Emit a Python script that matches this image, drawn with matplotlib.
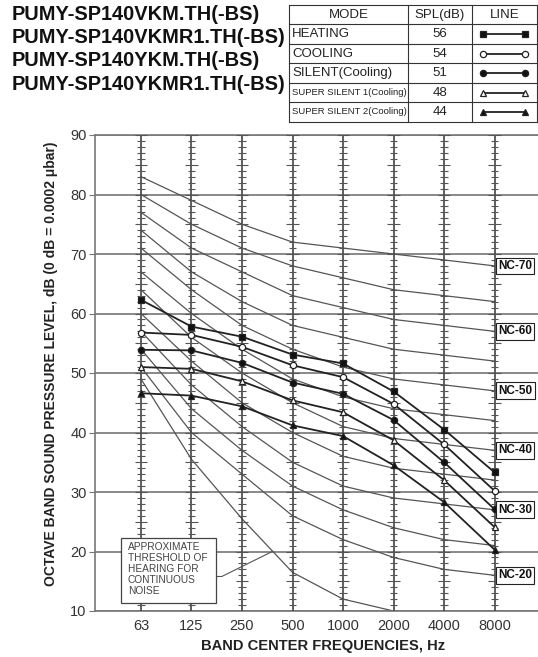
import numpy as np
import matplotlib
matplotlib.use('Agg')
import matplotlib.pyplot as plt
from matplotlib.patches import Rectangle

plt.rcParams['font.family'] = ['Liberation Sans', 'DejaVu Sans']

# --- data ---
freqs = ['63', '125', '250', '500', '1000', '2000', '4000', '8000']

nc_names = ['NC-70', 'NC-65', 'NC-60', 'NC-55', 'NC-50', 'NC-45',
            'NC-40', 'NC-35', 'NC-30', 'NC-25', 'NC-20']
nc_values = [
    [83, 79, 75, 72, 71, 70, 69, 68],
    [80, 75, 71, 68, 66, 64, 63, 62],
    [77, 71, 67, 63, 61, 59, 58, 57],
    [74, 67, 62, 58, 56, 54, 53, 52],
    [71, 64, 58, 54, 51, 49, 48, 47],
    [67, 60, 54, 49, 46, 44, 43, 42],
    [64, 56, 50, 45, 41, 39, 38, 37],
    [60, 52, 45, 40, 36, 34, 33, 32],
    [57, 48, 41, 35, 31, 29, 28, 27],
    [54, 44, 37, 31, 27, 24, 22, 21],
    [51, 40, 33, 26, 22, 19, 17, 16],
]
nc_labelled = ['NC-70', 'NC-60', 'NC-50', 'NC-40', 'NC-30', 'NC-20']

# approximate threshold of hearing (63 .. 2000 Hz)
threshold = [49, 35.5, 25.5, 16.5, 12, 10]

models = ['PUMY-SP140VKM.TH(-BS)', 'PUMY-SP140VKMR1.TH(-BS)',
          'PUMY-SP140YKM.TH(-BS)', 'PUMY-SP140YKMR1.TH(-BS)']

modes = ['HEATING', 'COOLING', 'SILENT(Cooling)',
         'SUPER SILENT 1(Cooling)', 'SUPER SILENT 2(Cooling)']
spl = [56, 54, 51, 48, 44]

heating = [62.3, 57.8, 56.1, 53.1, 51.6, 46.9, 40.5, 33.3]
cooling = [56.8, 56.4, 54.4, 51.3, 49.3, 44.8, 38.0, 30.2]
silent = [53.9, 53.8, 51.7, 48.4, 46.5, 42.1, 35.0, 27.1]
super_silent1 = [51.0, 50.7, 48.6, 45.4, 43.4, 38.7, 32.0, 24.1]
super_silent2 = [46.6, 46.2, 44.4, 41.2, 39.4, 34.5, 28.3, 20.3]
series = [heating, cooling, silent, super_silent1, super_silent2]

markers = ['s', 'o', 'o', '^', '^']
faces = ['#111111', 'white', '#111111', 'white', '#111111']

W, H = 538, 657
fig = plt.figure(figsize=(W / 100, H / 100), dpi=100)

# overlay in pixel coords for the header block
tax = fig.add_axes([0, 0, 1, 1])
tax.set_xlim(0, W)
tax.set_ylim(H, 0)
tax.axis('off')
tax.patch.set_visible(False)

for k, m in enumerate(models):
    tax.text(12, 14 + k * 23.5, m, fontsize=14.4, fontweight='bold',
             va='center', ha='left', color='#111')

# mode table
col_x = [289, 408, 472, 537]
row_y = [5 + 19.45 * k for k in range(7)]
for y in row_y:
    tax.plot([col_x[0], col_x[-1]], [y, y], color='#333', lw=0.8)
for x in col_x:
    tax.plot([x, x], [row_y[0], row_y[-1]], color='#333', lw=0.8)

tc = '#222'
hy = (row_y[0] + row_y[1]) / 2
tax.text((col_x[0] + col_x[1]) / 2, hy, 'MODE', ha='center', va='center', fontsize=9.5, color=tc)
tax.text((col_x[1] + col_x[2]) / 2, hy, 'SPL(dB)', ha='center', va='center', fontsize=9.5, color=tc)
tax.text((col_x[2] + col_x[3]) / 2, hy, 'LINE', ha='center', va='center', fontsize=9.5, color=tc)
for k in range(len(modes)):
    cy = (row_y[k + 1] + row_y[k + 2]) / 2
    fs = 6.8 if modes[k].startswith('SUPER') else 9.5
    tax.text(col_x[0] + 3, cy, modes[k], ha='left', va='center', fontsize=fs, color=tc)
    tax.text((col_x[1] + col_x[2]) / 2, cy, str(spl[k]), ha='center', va='center', fontsize=9.5, color=tc)
    tax.plot([483, 525], [cy, cy], color='#222', lw=1.3, marker=markers[k],
             ms=4.5, mfc=faces[k], mec='#222', mew=0.9)

# --- main chart ---
x0, x1, ytop, ybot = 95, 538, 135, 611
ax = fig.add_axes([x0 / W, 1 - ybot / H, (x1 - x0) / W, (ybot - ytop) / H])
ax.set_xlim(-0.91, 7.86)
ax.set_ylim(10, 90)
xs = np.arange(len(freqs))

ax.yaxis.grid(True, color='#808080', lw=1.3)
ax.set_axisbelow(True)

# NC curves
for name, vals in zip(nc_names, nc_values):
    ax.plot(xs, vals, color='#555555', lw=0.9, zorder=2)
    if name in nc_labelled:
        ax.text(7.07, vals[-1], name, ha='left', va='center', fontsize=8.5,
                fontweight='bold', color='#111', zorder=6,
                bbox=dict(boxstyle='square,pad=0.2', fc='white', ec='#222', lw=0.8))

ax.plot(xs[:len(threshold)], threshold, color='#555555', lw=0.9, zorder=2)

# frequency lines with 1 dB hash marks
ax.vlines(xs, 10, 90, color='#444444', lw=1.2, zorder=3)
ys = np.arange(10, 91)
for i in xs:
    hw = np.where(ys % 5 == 0, 0.12, 0.075)
    ax.hlines(ys, i - hw, i + hw, color='#555555', lw=0.8, zorder=3)

# measured spectra
for vals, mk, fc in zip(series, markers, faces):
    ax.plot(xs, vals, color='#222222', lw=1.3, marker=mk, ms=4.5,
            mfc=fc, mec='#222222', mew=0.9, zorder=5)

# threshold annotation
ax.add_patch(Rectangle((-0.40, 11.3), 1.89, 10.9, fc='white', ec='#444', lw=0.9, zorder=6))
ax.text(-0.26, 21.6, 'APPROXIMATE\nTHRESHOLD OF\nHEARING FOR\nCONTINUOUS\nNOISE',
        ha='left', va='top', fontsize=7.3, color='#444', linespacing=1.12, zorder=7)
ax.plot([1.49, 1.6, 2.6], [15.8, 15.8, 20.0], color='#555555', lw=0.8, zorder=4)

ax.set_yticks(range(10, 91, 10))
ax.set_xticks(xs)
ax.set_xticklabels(freqs)
ax.tick_params(axis='y', length=4, color='#777', labelsize=10.5, labelcolor='#333', pad=2)
ax.tick_params(axis='x', length=0, labelsize=10.5, labelcolor='#333', pad=6)
for s in ['left', 'bottom', 'top']:
    ax.spines[s].set_color('#777777')
    ax.spines[s].set_linewidth(1.2)
ax.spines['right'].set_visible(False)

fig.text(323 / W, 1 - 646 / H, 'BAND CENTER FREQUENCIES, Hz', ha='center', va='center',
         fontsize=10.6, fontweight='bold', color='#222')
fig.text(51 / W, 1 - 364 / H, 'OCTAVE BAND SOUND PRESSURE LEVEL, dB (0 dB = 0.0002 \u03bcbar)',
         ha='center', va='center', rotation=90, fontsize=10, fontweight='bold', color='#222')

fig.savefig('out.png', dpi=100)
